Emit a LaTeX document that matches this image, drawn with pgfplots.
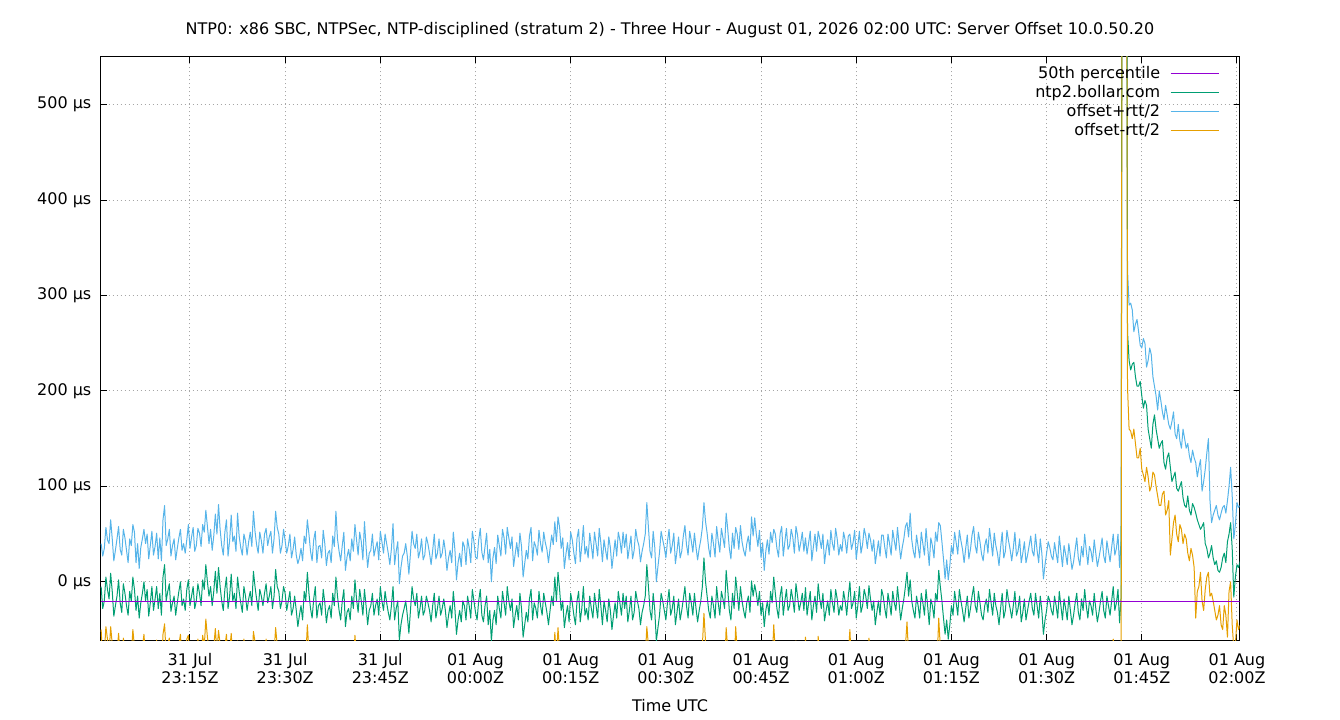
\documentclass[border=0pt]{standalone}
\usepackage{fontspec}
\setmainfont{DejaVu Sans}
\usepackage{pgfplots}
\usepackage{pgfplotstable}
\pgfplotsset{compat=1.18}

\definecolor{gpPurple}{RGB}{148,0,211}
\definecolor{gpGreen}{RGB}{0,158,115}
\definecolor{gpBlue}{RGB}{86,180,233}
\definecolor{gpOrange}{RGB}{230,159,0}

\newcommand{\fs}{\fontsize{16bp}{18bp}\selectfont}

% t = minutes after 31 Jul 23:00Z; b = offset+rtt/2, g = offset, o = offset-rtt/2 (us)
\pgfplotstableread{
t b g o
1.0 40 -5 -50
1.25 27 -28 -83
1.5 35 -20 -75
1.75 57 5 -47
2.0 44 -8 -60
2.25 40 -18 -76
2.5 65 9 -47
2.75 45 -10 -65
3.0 22 -36 -94
3.25 33 -25 -83
3.5 45 -15 -75
3.75 58 2 -54
4.0 34 -22 -78
4.25 28 -32 -92
4.5 55 -2 -59
4.75 46 -12 -70
5.0 33 -25 -83
5.25 20 -35 -90
5.5 45 -10 -65
5.75 38 -20 -78
6.0 60 5 -50
6.25 52 -8 -68
6.5 20 -30 -80
6.75 40 -15 -70
7.0 14 -38 -90
7.25 36 -22 -80
7.5 45 -12 -69
7.75 55 0 -55
8.0 40 -20 -80
8.25 50 -8 -66
8.5 24 -36 -96
8.75 38 -22 -82
9.0 53 -5 -63
9.25 28 -30 -88
9.5 37 -18 -73
9.75 51 -5 -61
10.0 24 -28 -80
10.25 46 -12 -70
10.5 22 -35 -92
10.75 65 5 -55
11.0 80 18 -44
11.25 38 -20 -78
11.5 45 -10 -65
11.75 55 -2 -59
12.0 27 -31 -89
12.25 38 -22 -82
12.5 45 -15 -75
12.75 23 -35 -93
13.0 35 -22 -79
13.25 46 -10 -66
13.5 55 0 -55
13.75 33 -25 -83
14.0 40 -18 -76
14.25 30 -30 -90
14.5 44 -8 -60
14.75 60 2 -56
15.0 35 -25 -85
15.25 47 -15 -77
15.5 57 -5 -67
15.75 32 -28 -88
16.0 38 -20 -78
16.25 56 -2 -60
16.5 51 -12 -75
16.75 37 -25 -87
17.0 60 2 -56
17.25 52 -8 -68
17.5 75 18 -39
17.75 58 0 -58
18.0 40 -15 -70
18.25 55 -5 -65
18.5 33 -25 -83
18.75 48 -10 -68
19.0 71 11 -49
19.25 50 -12 -74
19.5 81 15 -51
19.75 55 -5 -65
20.0 38 -20 -78
20.25 28 -30 -88
20.5 52 -8 -68
20.75 65 5 -55
21.0 27 -28 -83
21.25 43 -15 -73
21.5 70 8 -54
21.75 42 -20 -82
22.0 48 -12 -72
22.25 32 -28 -88
22.5 72 5 -62
22.75 48 -10 -68
23.0 36 -22 -80
23.25 28 -32 -92
23.5 50 -5 -60
23.75 43 -15 -73
24.0 28 -30 -88
24.25 42 -18 -78
24.5 52 -10 -72
24.75 37 -25 -87
25.0 74 11 -52
25.25 53 -5 -63
25.5 39 -18 -75
25.75 30 -30 -90
26.0 52 -8 -68
26.25 43 -15 -73
26.5 30 -25 -80
26.75 50 -12 -74
27.0 56 -2 -60
27.25 38 -22 -82
27.5 47 -15 -77
27.75 53 -5 -63
28.0 30 -28 -86
28.25 45 -15 -75
28.5 74 13 -48
28.75 57 -5 -67
29.0 50 -10 -70
29.25 30 -28 -86
29.5 38 -20 -78
29.75 55 -5 -65
30.0 43 -12 -67
30.25 30 -30 -90
30.5 38 -20 -78
30.75 50 -10 -70
31.0 25 -35 -95
31.25 34 -28 -90
31.5 47 -15 -77
31.75 28 -30 -88
32.0 19 -47 -113
32.25 25 -35 -95
32.5 35 -25 -85
32.75 22 -40 -102
33.0 48 -10 -68
33.25 40 -20 -80
33.5 65 10 -45
33.75 50 -12 -74
34.0 32 -28 -88
34.25 22 -38 -98
34.5 44 -18 -80
34.75 53 -5 -63
35.0 20 -38 -96
35.25 37 -25 -87
35.5 38 -22 -82
35.75 25 -35 -95
36.0 54 -8 -70
36.25 40 -22 -84
36.5 17 -43 -103
36.75 30 -30 -90
37.0 33 -25 -83
37.25 20 -38 -96
37.5 48 -12 -72
37.75 37 -25 -87
38.0 74 5 -64
38.25 45 -15 -75
38.5 32 -30 -92
38.75 22 -40 -102
39.0 38 -20 -78
39.25 52 -8 -68
39.5 12 -47 -106
39.75 26 -32 -90
40.0 34 -28 -90
40.25 22 -40 -102
40.5 45 -15 -75
40.75 32 -28 -88
41.0 60 2 -56
41.25 44 -18 -80
41.5 28 -32 -92
41.75 52 -8 -68
42.0 42 -20 -82
42.25 23 -35 -93
42.5 63 -8 -79
42.75 37 -25 -87
43.0 15 -45 -105
43.25 30 -30 -90
43.5 33 -25 -83
43.75 50 -12 -74
44.0 27 -35 -97
44.25 35 -25 -85
44.5 42 -18 -78
44.75 23 -35 -93
45.0 53 -5 -63
45.25 42 -20 -82
45.5 30 -30 -90
45.75 50 -10 -70
46.0 40 -22 -84
46.25 30 -32 -94
46.5 18 -40 -98
46.75 35 -25 -85
47.0 61 -5 -71
47.25 18 -40 -98
47.5 32 -28 -88
47.75 42 -20 -82
48.0 -2 -61 -120
48.25 15 -45 -105
48.5 27 -35 -97
48.75 30 -28 -86
49.0 40 -20 -80
49.25 27 -35 -97
49.5 8 -54 -116
49.75 30 -30 -90
50.0 53 -5 -63
50.25 40 -18 -76
50.5 35 -25 -85
50.75 50 -12 -74
51.0 25 -38 -101
51.25 32 -28 -88
51.5 45 -15 -75
51.75 23 -35 -93
52.0 28 -30 -88
52.25 47 -15 -77
52.5 40 -22 -84
52.75 30 -30 -90
53.0 18 -42 -102
53.25 33 -25 -83
53.5 50 -12 -74
53.75 24 -38 -100
54.0 30 -28 -86
54.25 45 -15 -75
54.5 25 -35 -95
54.75 30 -28 -86
55.0 44 -18 -80
55.25 32 -30 -92
55.5 12 -48 -108
55.75 25 -35 -95
56.0 33 -25 -83
56.25 20 -38 -96
56.5 52 -10 -72
56.75 34 -28 -90
57.0 2 -55 -112
57.25 20 -40 -100
57.5 30 -30 -90
57.75 16 -42 -100
58.0 42 -20 -82
58.25 37 -25 -87
58.5 18 -40 -98
58.75 45 -15 -75
59.0 35 -25 -85
59.25 20 -38 -96
59.5 53 -8 -69
59.75 42 -20 -82
60.0 26 -32 -90
60.25 24 -40 -104
60.5 44 -20 -84
60.75 56 -8 -72
61.0 31 -35 -101
61.25 23 -42 -107
61.5 37 -25 -87
61.75 51 -15 -81
62.0 20 -45 -110
62.25 34 -30 -94
62.5 0 -62 -124
62.75 25 -40 -105
63.0 36 -30 -96
63.25 19 -45 -109
63.5 49 -15 -79
63.75 38 -28 -94
64.0 27 -38 -103
64.25 55 -10 -75
64.5 46 -22 -90
64.75 29 -35 -99
65.0 57 -5 -67
65.25 46 -20 -86
65.5 35 -30 -95
65.75 47 -18 -83
66.0 16 -48 -112
66.25 29 -35 -99
66.5 41 -25 -91
66.75 26 -40 -106
67.0 51 -12 -75
67.25 37 -28 -93
67.5 5 -58 -121
67.75 19 -45 -109
68.0 33 -32 -97
68.25 24 -42 -108
68.5 48 -18 -84
68.75 57 -8 -73
69.0 22 -40 -102
69.25 42 -22 -86
69.5 37 -28 -93
69.75 28 -38 -104
70.0 54 -10 -74
70.25 40 -25 -90
70.5 31 -35 -101
70.75 52 -12 -76
71.0 41 -22 -85
71.25 34 -32 -98
71.5 20 -45 -110
71.75 35 -30 -95
72.0 49 -15 -79
72.25 39 -25 -89
72.5 63 5 -53
72.75 42 -20 -82
73.0 68 10 -48
73.25 57 -8 -73
73.5 35 -30 -95
73.75 46 -20 -86
74.0 14 -48 -110
74.25 29 -35 -99
74.5 41 -25 -91
74.75 23 -42 -107
75.0 52 -12 -76
75.25 44 -22 -88
75.5 30 -35 -100
75.75 19 -45 -109
76.0 46 -20 -86
76.25 55 -10 -75
76.5 21 -42 -105
76.75 38 -28 -94
77.0 59 -5 -69
77.25 29 -35 -99
77.5 37 -28 -93
77.75 25 -40 -105
78.0 51 -15 -81
78.25 38 -28 -94
78.5 24 -38 -100
78.75 52 -12 -76
79.0 40 -25 -90
79.25 27 -38 -103
79.5 56 -8 -72
79.75 41 -25 -91
80.0 21 -45 -111
80.25 44 -20 -84
80.5 33 -30 -93
80.75 23 -42 -107
81.0 47 -18 -83
81.25 36 -30 -96
81.5 14 -50 -114
81.75 29 -35 -99
82.0 44 -22 -88
82.25 27 -38 -103
82.5 52 -10 -72
82.75 44 -22 -88
83.0 30 -35 -100
83.25 52 -12 -76
83.5 36 -28 -92
83.75 50 -15 -80
84.0 24 -42 -108
84.25 36 -30 -96
84.5 48 -15 -78
84.75 24 -40 -104
85.0 33 -32 -97
85.25 55 -10 -75
85.5 44 -20 -84
85.75 38 -28 -94
86.0 21 -45 -111
86.25 32 -32 -96
86.5 40 -25 -90
86.75 50 -15 -80
87.0 83 18 -47
87.25 57 -5 -67
87.5 32 -30 -92
87.75 25 -40 -105
88.0 53 -12 -77
88.25 36 -30 -96
88.5 0 -62 -124
88.75 16 -48 -112
89.0 31 -35 -101
89.25 53 -12 -77
89.5 44 -20 -84
89.75 36 -30 -96
90.0 25 -40 -105
90.25 42 -22 -86
90.5 55 -8 -71
90.75 30 -35 -100
91.0 38 -28 -94
91.25 51 -15 -81
91.5 19 -45 -109
91.75 32 -32 -96
92.0 47 -18 -83
92.25 25 -40 -105
92.5 32 -30 -92
92.75 48 -18 -84
93.0 59 -5 -69
93.25 39 -25 -89
93.5 28 -38 -104
93.75 53 -12 -77
94.0 43 -22 -87
94.25 31 -35 -101
94.5 51 -12 -75
94.75 36 -28 -92
95.0 23 -42 -107
95.25 35 -30 -95
95.5 44 -20 -84
95.75 57 -5 -67
96.0 83 25 -33
96.25 63 0 -63
96.5 51 -15 -81
96.75 35 -30 -95
97.0 26 -38 -102
97.25 51 -15 -81
97.5 40 -25 -90
97.75 26 -38 -102
98.0 58 -5 -68
98.25 43 -22 -87
98.5 31 -35 -101
98.75 56 -10 -76
99.0 46 -18 -82
99.25 36 -28 -92
99.5 72 12 -48
99.75 55 -8 -71
100.0 35 -30 -95
100.25 24 -40 -104
100.5 51 -12 -75
100.75 35 -28 -91
101.0 57 5 -47
101.25 50 -12 -74
101.5 34 -30 -94
101.75 59 -5 -69
102.0 42 -20 -82
102.25 33 -30 -93
102.5 27 -38 -103
102.75 40 -22 -84
103.0 48 -15 -78
103.25 32 -32 -96
103.5 68 1 -66
103.75 48 -15 -78
104.0 67 -3 -73
104.25 50 -12 -74
104.5 37 -25 -87
104.75 54 -10 -74
105.0 25 -35 -95
105.25 41 -22 -85
105.5 12 -47 -106
105.75 32 -30 -92
106.0 44 -20 -84
106.25 29 -35 -99
106.5 52 -10 -72
106.75 41 -22 -85
107.0 55 5 -45
107.25 50 -12 -74
107.5 35 -28 -91
107.75 26 -38 -102
108.0 50 -15 -80
108.25 58 -5 -68
108.5 27 -35 -97
108.75 42 -20 -82
109.0 56 -8 -72
109.25 34 -30 -94
109.5 38 -25 -88
109.75 55 -8 -71
110.0 47 -18 -83
110.25 30 -32 -94
110.5 58 -2 -62
110.75 49 -15 -79
111.0 32 -30 -92
111.25 41 -22 -85
111.5 52 -12 -76
111.75 32 -30 -92
112.0 46 -6 -58
112.25 29 -35 -99
112.5 41 -22 -85
112.75 53 -10 -73
113.0 22 -40 -102
113.25 37 -25 -87
113.5 50 -15 -80
113.75 32 -32 -96
114.0 53 -2 -57
114.25 45 -18 -81
114.5 35 -28 -91
114.75 50 -12 -74
115.0 19 -41 -101
115.25 34 -30 -94
115.5 44 -20 -84
115.75 28 -35 -98
116.0 54 -8 -70
116.25 40 -22 -84
116.5 33 -32 -97
116.75 56 -8 -72
117.0 45 -18 -81
117.25 28 -35 -98
117.5 39 -25 -89
117.75 32 -30 -92
118.0 52 -10 -72
118.25 44 -20 -84
118.5 30 -35 -100
118.75 48 -15 -78
119.0 50 0 -50
119.25 34 -28 -90
119.5 41 -22 -85
119.75 54 -10 -74
120.0 24 -38 -100
120.25 38 -25 -88
120.5 53 -5 -63
120.75 30 -32 -94
121.0 39 -25 -89
121.25 56 -8 -72
121.5 48 -15 -78
121.75 35 -28 -91
122.0 51 -4 -59
122.25 44 -18 -80
122.5 32 -30 -92
122.75 44 -20 -84
123.0 19 -45 -109
123.25 31 -32 -95
123.5 43 -20 -83
123.75 27 -35 -97
124.0 49 -8 -65
124.25 49 -15 -79
124.5 36 -28 -92
124.75 25 -38 -101
125.0 50 -12 -74
125.25 40 -22 -84
125.5 28 -35 -98
125.75 54 -10 -74
126.0 43 -22 -87
126.25 33 -30 -93
126.5 57 -5 -67
126.75 40 -22 -84
127.0 24 -40 -104
127.25 36 -28 -92
127.5 45 -18 -81
127.75 58 -5 -68
128.0 62 10 -42
128.25 47 -15 -77
128.5 72 2 -68
128.75 44 -20 -84
129.0 32 -30 -92
129.25 25 -38 -101
129.5 49 -15 -79
129.75 37 -25 -87
130.0 25 -38 -101
130.25 52 -12 -76
130.5 40 -22 -84
130.75 28 -35 -98
131.0 56 -8 -72
131.25 37 -25 -87
131.5 17 -45 -107
131.75 46 -18 -82
132.0 38 -25 -88
132.25 25 -38 -101
132.5 52 -12 -76
132.75 42 -20 -82
133.0 62 12 -38
133.25 59 -5 -69
133.5 42 -20 -82
133.75 24 -38 -100
134.0 3 -55 -113
134.25 23 -40 -103
134.5 2 -60 -122
134.75 17 -45 -107
135.0 38 -25 -88
135.25 29 -35 -99
135.5 52 -10 -72
135.75 41 -22 -85
136.0 29 -35 -99
136.25 54 -8 -70
136.5 43 -20 -83
136.75 34 -30 -94
137.0 20 -42 -104
137.25 35 -28 -91
137.5 49 -15 -79
137.75 24 -38 -100
138.0 34 -28 -90
138.25 49 -15 -79
138.5 58 -5 -68
138.75 38 -25 -88
139.0 30 -32 -94
139.25 52 -10 -72
139.5 42 -22 -86
139.75 29 -35 -99
140.0 22 -40 -102
140.25 38 -25 -88
140.5 45 -18 -81
140.75 30 -32 -94
141.0 56 -8 -72
141.25 42 -22 -86
141.5 27 -35 -97
141.75 51 -12 -75
142.0 38 -25 -88
142.25 30 -32 -94
142.5 17 -45 -107
142.75 36 -28 -92
143.0 52 -12 -76
143.25 25 -38 -101
143.5 32 -30 -92
143.75 54 -8 -70
144.0 43 -20 -83
144.25 34 -28 -90
144.5 22 -38 -98
144.75 35 -25 -85
145.0 52 -10 -72
145.25 27 -35 -97
145.5 32 -28 -88
145.75 45 -15 -75
146.0 20 -42 -104
146.25 30 -32 -94
146.5 42 -18 -78
146.75 20 -40 -100
147.0 28 -30 -88
147.25 38 -20 -78
147.5 48 -12 -72
147.75 32 -28 -88
148.0 27 -35 -97
148.25 50 -12 -74
148.5 33 -25 -83
148.75 20 -38 -96
149.0 45 -15 -75
149.25 30 -30 -90
149.5 3 -55 -113
149.75 18 -40 -98
150.0 30 -30 -90
150.25 42 -15 -72
150.5 36 -20 -76
150.75 27 -30 -87
151.0 23 -35 -93
151.25 41 -15 -71
151.5 30 -25 -80
151.75 20 -38 -96
152.0 48 -10 -68
152.25 32 -25 -82
152.5 16 -40 -96
152.75 38 -18 -74
153.0 29 -28 -85
153.25 18 -40 -98
153.5 40 -15 -70
153.75 27 -30 -87
154.0 13 -45 -103
154.25 21 -35 -91
154.5 34 -22 -78
154.75 46 -12 -70
155.0 25 -32 -89
155.25 17 -40 -97
155.5 37 -18 -73
155.75 26 -30 -86
156.0 50 -8 -66
156.25 33 -25 -83
156.5 18 -38 -94
156.75 37 -20 -77
157.0 32 -25 -82
157.25 21 -35 -91
157.5 44 -12 -68
157.75 30 -28 -86
158.0 16 -42 -100
158.25 25 -32 -89
158.5 35 -20 -75
158.75 46 -10 -66
159.0 27 -30 -87
159.25 20 -38 -96
159.5 43 -15 -73
159.75 32 -25 -82
160.0 21 -35 -91
160.25 36 -20 -76
160.5 50 -5 -60
160.75 28 -30 -88
161.0 35 -22 -79
161.25 50 -8 -66
161.5 15 -43 -101
161.75 45 -15 -75
162.0 1500 1400 1300
162.25 1500 1400 1300
162.5 1400 1300 1200
162.75 327 262 204
163.0 290 232 160
163.25 292 222 158
163.5 285 228 150
163.75 262 230 160
164.0 270 215 145
164.25 275 205 130
164.5 262 205 130
164.75 248 210 140
165.0 245 195 118
165.25 255 182 112
165.5 250 190 105
165.75 225 185 120
166.0 232 160 110
166.25 245 150 95
166.5 238 140 100
166.75 215 165 115
167.0 205 175 112
167.25 195 160 100
167.5 180 150 90
167.75 200 140 80
168.0 190 145 80
168.25 178 148 92
168.5 170 125 95
168.75 185 118 70
169.0 175 130 75
169.25 165 135 85
169.5 160 120 28
169.75 168 105 45
170.0 178 110 62
170.25 155 115 70
170.5 150 98 50
170.75 165 95 42
171.0 148 100 60
171.25 140 105 55
171.5 160 88 40
171.75 150 80 50
172.0 140 78 45
172.25 145 90 30
172.5 132 75 22
172.75 125 70 35
173.0 138 82 28
173.25 130 78 15
173.5 125 72 -38
173.75 110 65 -10
174.0 120 60 -5
174.25 128 55 10
174.5 95 58 -20
174.75 105 62 -30
175.0 118 40 -8
175.25 135 35 5
175.5 150 25 10
175.75 85 30 -15
176.0 62 38 -12
176.25 70 25 -20
176.5 75 18 -30
176.75 80 22 -40
177.0 70 12 -35
177.25 65 10 -25
177.5 72 15 -45
177.75 78 25 -50
178.0 80 30 -25
178.25 72 20 -35
178.5 85 42 -58
178.75 100 50 -10
179.0 120 62 0
179.25 90 35 -45
179.5 45 -16 -70
179.75 60 5 -65
180.0 83 18 -40
180.25 78 15 -50
180.5 80 22 -45
}\datatable

\begin{document}
\fs
\begin{tikzpicture}
\useasboundingbox (0,0) rectangle (1340bp,720bp);
\begin{axis}[
  at={(100.5bp,79.5bp)}, anchor=south west,
  scale only axis, width=1139bp, height=583.5bp,
  xmin=0.9, xmax=180.4, ymin=-61.5, ymax=550,
  xtick={15,30,45,60,75,90,105,120,135,150,165,180},
  xticklabels={{31 Jul\\23:15Z},{31 Jul\\23:30Z},{31 Jul\\23:45Z},
    {01 Aug\\00:00Z},{01 Aug\\00:15Z},{01 Aug\\00:30Z},{01 Aug\\00:45Z},
    {01 Aug\\01:00Z},{01 Aug\\01:15Z},{01 Aug\\01:30Z},{01 Aug\\01:45Z},
    {01 Aug\\02:00Z}},
  ytick={0,100,200,300,400,500},
  yticklabels={0 µs,100 µs,200 µs,300 µs,400 µs,500 µs},
  xticklabel style={align=center, inner sep=0pt, yshift=-13bp, font=\fs},
  yticklabel style={inner sep=0pt, xshift=-9bp, font=\fs},
  tick align=inside, major tick length=6bp,
  tick style={black, line width=1bp},
  axis line style={black, line width=1bp},
  grid=major,
  major grid style={black!35, line width=1bp, dash pattern=on 1bp off 3bp},
  every axis title/.style={at={(axis description cs:0.5,1)}, anchor=base, yshift=22.5bp, inner sep=0pt, font=\fs},
  title={NTP0: x86 SBC, NTPSec, NTP-disciplined (stratum 2) - Three Hour - August 01, 2026 02:00 UTC: Server Offset 10.0.50.20},
  every axis x label/.style={at={(axis description cs:0.5,0)}, anchor=base, yshift=-71bp, inner sep=0pt, font=\fs},
  xlabel={Time UTC},
  legend cell align=right, legend plot pos=right,
  legend image code/.code={\draw[#1] (0bp,0bp) -- (48bp,0bp);},
  legend style={at={(axis description cs:1,1)}, anchor=north east,
    xshift=-20bp, yshift=-8bp, draw=none, fill=none, inner sep=0pt,
    row sep=3bp, column sep=10bp, font=\fs,
    nodes={inner sep=0pt, text height=13bp, text depth=3bp}},
]
\addlegendimage{color=gpPurple, line width=1.2bp}
\addlegendentry{50th percentile}
\addlegendimage{color=gpGreen, line width=1bp}
\addlegendentry{ntp2.bollar.com}
\addlegendimage{color=gpBlue, line width=1bp}
\addlegendentry{offset+rtt/2}
\addlegendimage{color=gpOrange, line width=1bp}
\addlegendentry{offset-rtt/2}

\addplot[color=gpBlue, line width=1bp, line join=round, forget plot] table[x=t, y=b] {\datatable};
\addplot[color=gpGreen, line width=1bp, line join=round, forget plot] table[x=t, y=g] {\datatable};
\addplot[color=gpOrange, line width=1bp, line join=round, forget plot] table[x=t, y=o] {\datatable};
\addplot[color=gpPurple, line width=1.2bp, forget plot] coordinates {(0.9,-21) (180.4,-21)};
\end{axis}
\end{tikzpicture}
\end{document}
